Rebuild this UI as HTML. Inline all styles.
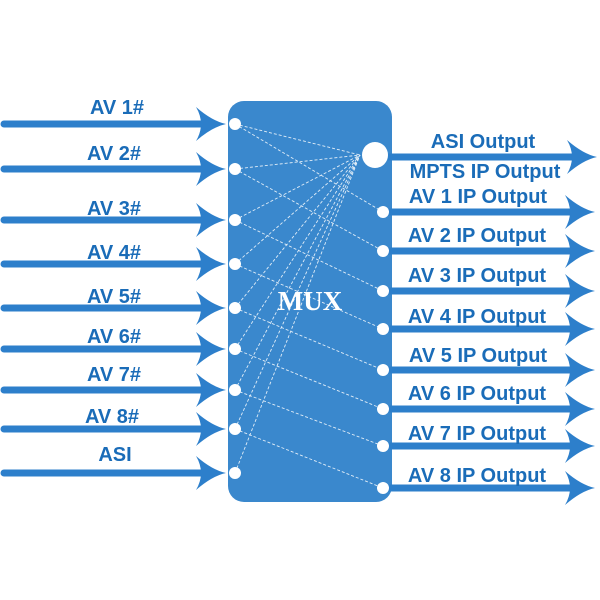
<!DOCTYPE html>
<html><head><meta charset="utf-8"><style>html,body{margin:0;padding:0;background:#fff}svg{display:block}</style></head>
<body>
<svg width="600" height="600" viewBox="0 0 600 600" xmlns="http://www.w3.org/2000/svg">
<defs>
<g id="ah"><path d="M0,0 Q-14,-3 -30,-17 Q-20,0 -30,17 Q-14,3 0,0 Z" fill="#2d7fcb"/></g>
</defs>
<rect x="228" y="101" width="164" height="401" rx="16" fill="#3a88cd"/>
<g stroke="#2d7fcb" stroke-width="7" stroke-linecap="round">
<line x1="4" y1="124" x2="205" y2="124"/><line x1="4" y1="169" x2="205" y2="169"/>
<line x1="4" y1="220" x2="205" y2="220"/><line x1="4" y1="264" x2="205" y2="264"/>
<line x1="4" y1="308" x2="205" y2="308"/><line x1="4" y1="349" x2="205" y2="349"/>
<line x1="4" y1="390" x2="205" y2="390"/><line x1="4" y1="429" x2="205" y2="429"/>
<line x1="4" y1="473" x2="205" y2="473"/>
</g>
<g stroke="#2d7fcb" stroke-width="7">
<line x1="388" y1="157" x2="575" y2="157"/>
<line x1="388" y1="212" x2="575" y2="212"/><line x1="388" y1="251" x2="575" y2="251"/>
<line x1="388" y1="291" x2="575" y2="291"/><line x1="388" y1="329" x2="575" y2="329"/>
<line x1="388" y1="370" x2="575" y2="370"/><line x1="388" y1="409" x2="575" y2="409"/>
<line x1="388" y1="446" x2="575" y2="446"/><line x1="388" y1="488" x2="575" y2="488"/>
</g>
<g>
<use href="#ah" x="226" y="124"/><use href="#ah" x="226" y="169"/><use href="#ah" x="226" y="220"/>
<use href="#ah" x="226" y="264"/><use href="#ah" x="226" y="308"/><use href="#ah" x="226" y="349"/>
<use href="#ah" x="226" y="390"/><use href="#ah" x="226" y="429"/><use href="#ah" x="226" y="473"/>
<use href="#ah" x="597" y="157"/><use href="#ah" x="595" y="212"/><use href="#ah" x="595" y="251"/>
<use href="#ah" x="595" y="291"/><use href="#ah" x="595" y="329"/><use href="#ah" x="595" y="370"/>
<use href="#ah" x="595" y="409"/><use href="#ah" x="595" y="446"/><use href="#ah" x="595" y="488"/>
</g>
<g stroke="#fff" stroke-width="0.9" stroke-dasharray="3,2" opacity="0.85">
<line x1="235" y1="124" x2="360" y2="155"/><line x1="235" y1="169" x2="360" y2="155"/>
<line x1="235" y1="220" x2="360" y2="155"/><line x1="235" y1="264" x2="360" y2="155"/>
<line x1="235" y1="308" x2="360" y2="155"/><line x1="235" y1="349" x2="360" y2="155"/>
<line x1="235" y1="390" x2="360" y2="155"/><line x1="235" y1="429" x2="360" y2="155"/>
<line x1="235" y1="473" x2="360" y2="155"/>
<line x1="235" y1="124" x2="383" y2="212"/><line x1="235" y1="169" x2="383" y2="251"/>
<line x1="235" y1="220" x2="383" y2="291"/><line x1="235" y1="264" x2="383" y2="329"/>
<line x1="235" y1="308" x2="383" y2="370"/><line x1="235" y1="349" x2="383" y2="409"/>
<line x1="235" y1="390" x2="383" y2="446"/><line x1="235" y1="429" x2="383" y2="488"/>
</g>
<g fill="#fff">
<circle cx="235" cy="124" r="6"/><circle cx="235" cy="169" r="6"/><circle cx="235" cy="220" r="6"/>
<circle cx="235" cy="264" r="6"/><circle cx="235" cy="308" r="6"/><circle cx="235" cy="349" r="6"/>
<circle cx="235" cy="390" r="6"/><circle cx="235" cy="429" r="6"/><circle cx="235" cy="473" r="6"/>
<circle cx="375" cy="155" r="13"/>
<circle cx="383" cy="212" r="6"/><circle cx="383" cy="251" r="6"/><circle cx="383" cy="291" r="6"/>
<circle cx="383" cy="329" r="6"/><circle cx="383" cy="370" r="6"/><circle cx="383" cy="409" r="6"/>
<circle cx="383" cy="446" r="6"/><circle cx="383" cy="488" r="6"/>
</g>
<text x="310" y="310" text-anchor="middle" font-family="Liberation Serif, serif" font-weight="bold" font-size="27" fill="#fff">MUX</text>
<g font-family="Liberation Sans, sans-serif" font-weight="bold" font-size="20" fill="#1a6cb8" text-anchor="middle">
<text x="117" y="114">AV 1#</text><text x="114" y="160">AV 2#</text><text x="114" y="215">AV 3#</text>
<text x="114" y="259">AV 4#</text><text x="114" y="303">AV 5#</text><text x="114" y="343">AV 6#</text>
<text x="114" y="381">AV 7#</text><text x="112" y="423">AV 8#</text><text x="115" y="461">ASI</text>
<text x="483" y="148">ASI Output</text><text x="485" y="178">MPTS IP Output</text>
<text x="478" y="203">AV 1 IP Output</text><text x="477" y="242">AV 2 IP Output</text>
<text x="477" y="282">AV 3 IP Output</text><text x="477" y="323">AV 4 IP Output</text>
<text x="478" y="362">AV 5 IP Output</text><text x="477" y="400">AV 6 IP Output</text>
<text x="477" y="440">AV 7 IP Output</text><text x="477" y="482">AV 8 IP Output</text>
</g>
</svg>
</body></html>
